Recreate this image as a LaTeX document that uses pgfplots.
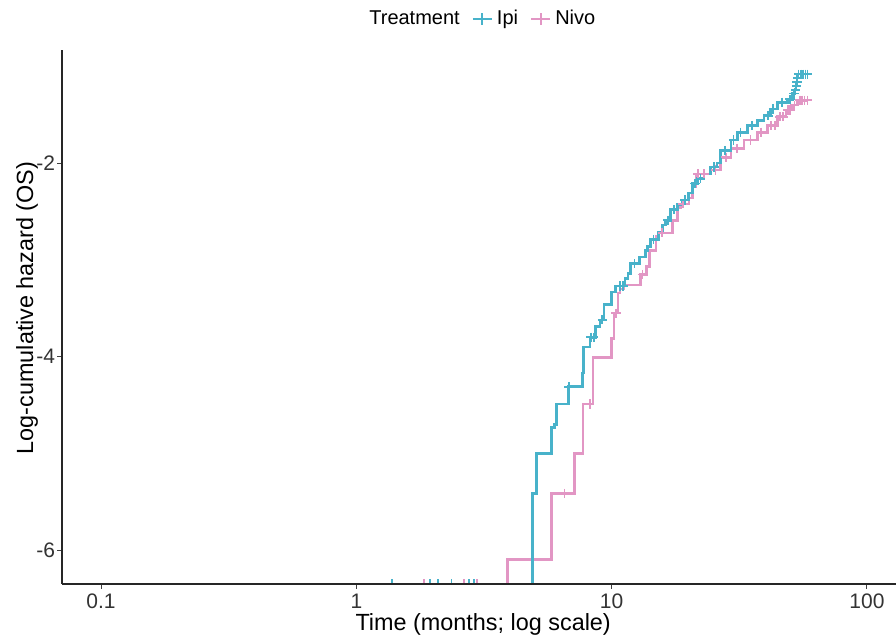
\documentclass[border=0pt]{standalone}
\usepackage{fontspec}
\setmainfont{Liberation Sans}
\usepackage{pgfplots}
\pgfplotsset{compat=1.18}
\definecolor{ipi}{RGB}{72,178,202}
\definecolor{nivo}{RGB}{226,150,196}
\begin{document}
\begin{tikzpicture}
\begin{axis}[name=ax, scale only axis, width=417pt, height=267pt,
  xmode=log, log basis x=10, xmin=0.0703, xmax=130, ymin=-6.35, ymax=-0.83,
  axis lines=left, axis line style={-, line width=0.6pt, black!85},
  xtick={0.1,1,10,100}, xticklabels={0.1,1,10,100},
  ytick={-6,-4,-2}, yticklabels={-6,-4,-2},
  xminorticks=false, yminorticks=false,
  tick align=outside, major tick length=2.5pt, tick style={black!75, line width=0.5pt},
  ticklabel style={font=\fontsize{10.5}{12}\selectfont, text=black!80},
  yticklabel style={xshift=2.5pt},
  xticklabel style={yshift=1.2pt},
  /pgf/number format/assume math mode=true,
  xlabel={Time (months; log scale)}, ylabel={Log-cumulative hazard (OS)},
  xlabel style={font=\fontsize{11.7}{14}\selectfont, at={(axis description cs:0.505,-0.075)}, anchor=center},
  ylabel style={font=\fontsize{11.7}{14}\selectfont, at={(axis description cs:-0.042,0.517)}, anchor=center},
  axis on top, clip marker paths=true,
  legend style={draw=none, fill=none, legend columns=-1, font=\fontsize{10}{12}\selectfont,
    at={(axis description cs:0.504,1.058)}, anchor=center,
    /tikz/every even column/.append style={column sep=4pt}},
  legend image code/.code={\draw[mark repeat=2,mark phase=2] plot coordinates {(0pt,0pt)(4.75pt,0pt)(9.5pt,0pt)};},
]
\addlegendimage{empty legend}\addlegendentry{Treatment}
\addlegendimage{ipi, line width=1.1pt, mark=+, mark size=2.8pt}\addlegendentry{Ipi}
\addlegendimage{nivo, line width=1.1pt, mark=+, mark size=2.8pt}\addlegendentry{Nivo}

% Nivo step curve
\addplot[nivo, line width=1.3pt, const plot, forget plot] coordinates {
(3.92,-6.4)(3.92,-6.10)(5.80,-5.415)(7.16,-5.00)(7.72,-4.49)(8.46,-4.01)(10.0,-3.81)
(10.2,-3.55)(10.6,-3.34)(10.8,-3.30)(11.1,-3.26)(13.0,-3.15)(13.7,-3.07)(14.1,-2.90)
(14.9,-2.76)(15.3,-2.72)(17.3,-2.59)(18.1,-2.46)(18.7,-2.42)(20.1,-2.36)(20.7,-2.24)
(21.4,-2.11)(24.4,-2.07)(26.7,-1.94)(29.3,-1.85)(33.0,-1.76)(37.3,-1.68)(40.8,-1.61)
(44.7,-1.52)(48.2,-1.45)(51.1,-1.40)(53.5,-1.35)(58.5,-1.35)};
% Ipi step curve
\addplot[ipi, line width=1.3pt, const plot, forget plot] coordinates {
(4.89,-6.4)(4.89,-5.415)(5.08,-5.00)(5.80,-4.735)(5.98,-4.70)(6.09,-4.49)(6.78,-4.31)
(7.68,-4.17)(7.75,-3.90)(8.23,-3.80)(8.65,-3.69)(9.00,-3.62)(9.33,-3.46)(10.0,-3.33)
(10.37,-3.27)(11.27,-3.19)(11.58,-3.14)(11.88,-3.04)(12.88,-2.97)(13.6,-2.90)(13.8,-2.86)
(14.2,-2.79)(15.3,-2.71)(15.8,-2.64)(16.3,-2.59)(17.0,-2.48)(18.1,-2.43)(18.9,-2.38)
(20.0,-2.31)(20.7,-2.21)(21.7,-2.16)(23.0,-2.11)(24.4,-2.04)(25.9,-2.00)(26.7,-1.87)
(29.3,-1.76)(31.1,-1.68)(34.0,-1.61)(37.3,-1.56)(39.5,-1.51)(42.0,-1.44)(44.7,-1.37)
(48.9,-1.34)(51.1,-1.28)(52.3,-1.24)(52.7,-1.20)(53.0,-1.16)(53.3,-1.12)(53.6,-1.08)(58.5,-1.08)};

% Nivo censor marks
\addplot[nivo, only marks, mark=+, mark size=2.3pt, line width=0.9pt, forget plot] coordinates {
(1.84,-6.35)(2.64,-6.35)(2.97,-6.35)
(6.54,-5.415)(8.2,-4.49)(10.4,-3.55)(13.2,-3.15)(15.8,-2.72)(19.0,-2.42)(21.8,-2.11)(23,-2.11)
(25.5,-2.07)(28,-1.94)(31,-1.85)(35,-1.76)(38.5,-1.68)(42,-1.61)(43.5,-1.61)(45.5,-1.52)
(47,-1.52)(49,-1.45)(50,-1.45)(52,-1.40)(54.5,-1.35)(55.5,-1.35)(57,-1.35)(58.5,-1.35)};
% Ipi censor marks
\addplot[ipi, only marks, mark=+, mark size=2.3pt, line width=0.9pt, forget plot] coordinates {
(1.38,-6.35)(1.94,-6.35)(2.09,-6.35)(2.36,-6.35)(2.76,-6.35)(2.88,-6.35)
(6.8,-4.31)(8.3,-3.80)(8.5,-3.80)(9.2,-3.62)(10.8,-3.27)(11.1,-3.27)(12.3,-3.04)(14.6,-2.79)
(16.6,-2.59)(17.5,-2.48)(19.4,-2.38)(21.2,-2.21)(22.3,-2.16)(25.2,-2.04)(27.8,-1.87)(30.0,-1.76)
(32.0,-1.68)(35.5,-1.61)(41.0,-1.51)(43.0,-1.44)(46.5,-1.37)(50.0,-1.34)(51.8,-1.28)(52.5,-1.24)
(53.0,-1.20)(53.2,-1.16)(53.5,-1.12)(54.0,-1.08)(55,-1.08)(56,-1.08)(57.5,-1.08)(58.5,-1.08)};
\end{axis}
\pgfresetboundingbox
\path ([shift={(-31pt,-27.5pt)}]ax.south west) rectangle ([shift={(0pt,25pt)}]ax.north east);
\end{tikzpicture}
\end{document}
